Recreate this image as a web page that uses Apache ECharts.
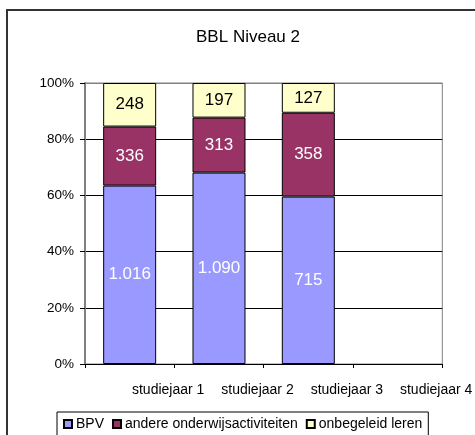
<!DOCTYPE html>
<html>
<head>
<meta charset="utf-8">
<script src="https://cdn.jsdelivr.net/npm/echarts@6/dist/echarts.min.js"></script>
<style>
html,body{margin:0;padding:0;background:#fff;}
#chart{width:475px;height:435px;}
</style>
</head>
<body>
<div id="chart"></div>
<script>
var title = 'BBL Niveau 2';
var categories = ['studiejaar 1', 'studiejaar 2', 'studiejaar 3', 'studiejaar 4'];
var seriesNames = ['BPV', 'andere onderwijsactiviteiten', 'onbegeleid leren'];
var bpv = [1016, 1090, 715, null];
var andere = [336, 313, 358, null];
var onbegeleid = [248, 197, 127, null];
var yTicks = [0, 20, 40, 60, 80, 100];

var raw = [bpv, andere, onbegeleid];
var colors = ['#9999FF', '#993366', '#FFFFCC'];
var labelColors = ['#ffffff', '#ffffff', '#000000'];
var FONT = '"Liberation Sans", Arial, sans-serif';

var totals = categories.map(function (c, i) {
  var s = 0, any = false;
  raw.forEach(function (arr) { if (arr[i] != null) { s += arr[i]; any = true; } });
  return any ? s : null;
});

function fmt(v) {
  return String(v).replace(/\B(?=(\d{3})+(?!\d))/g, '.');
}

var series = raw.map(function (arr, k) {
  return {
    name: seriesNames[k],
    type: 'bar',
    stack: 'total',
    barWidth: 53,
    data: arr.map(function (v, i) {
      return v == null ? null : { value: v / totals[i] * 100, raw: v };
    }),
    itemStyle: { color: colors[k], borderColor: '#000', borderWidth: 1 },
    label: {
      show: true,
      position: 'inside',
      color: labelColors[k],
      fontFamily: FONT,
      fontSize: 17,
      formatter: function (p) { return p.data ? fmt(p.data.raw) : ''; }
    },
    emphasis: { disabled: true }
  };
});

var chart = echarts.init(document.getElementById('chart'), null, { renderer: 'canvas' });
chart.setOption({
  animation: false,
  backgroundColor: '#fff',
  textStyle: { fontFamily: FONT },
  title: {
    text: title,
    left: 243,
    textAlign: 'center',
    top: 24,
    textStyle: { fontFamily: FONT, fontSize: 17, fontWeight: 'normal', color: '#000' }
  },
  graphic: [{
    type: 'rect',
    shape: { x: 7, y: 10, width: 480, height: 440 },
    style: { fill: 'none', stroke: '#333', lineWidth: 2 },
    z: 100
  }],
  legend: {
    left: 57,
    top: 412,
    itemWidth: 8,
    itemHeight: 8,
    itemGap: 8,
    icon: 'rect',
    padding: [5, 6, 6, 6],
    borderColor: '#000',
    borderWidth: 1,
    textStyle: { fontFamily: FONT, fontSize: 14, color: '#000', padding: [0, 0, 0, -1] },
    data: seriesNames
  },
  grid: {
    left: 85, top: 83, width: 360, height: 281,
    show: true, borderColor: '#808080', borderWidth: 1, backgroundColor: 'transparent'
  },
  xAxis: {
    type: 'category',
    data: categories,
    boundaryGap: true,
    axisLine: { lineStyle: { color: '#000', width: 1 } },
    axisTick: { show: true, length: 4, lineStyle: { color: '#000' } },
    axisLabel: {
      interval: 0,
      margin: 19,
      color: '#000',
      fontFamily: FONT,
      fontSize: 14,
      padding: [0, 0, 0, 77]
    },
    splitLine: { show: false }
  },
  yAxis: {
    type: 'value',
    min: yTicks[0],
    max: yTicks[yTicks.length - 1],
    interval: 20,
    axisLine: { show: true, lineStyle: { color: '#808080', width: 2 } },
    axisTick: { show: true, length: 5, lineStyle: { color: '#000' } },
    axisLabel: {
      margin: 11,
      color: '#000',
      fontFamily: FONT,
      fontSize: 13.5,
      formatter: '{value}%'
    },
    splitLine: { show: true, lineStyle: { color: ['#000', '#000', '#000', '#000', '#000', '#808080'], width: 1 } }
  },
  series: series
});
</script>
</body>
</html>
